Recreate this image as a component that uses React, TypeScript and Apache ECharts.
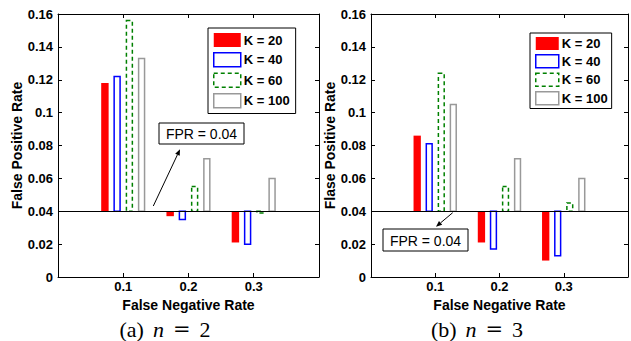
import React, { useEffect, useRef } from "react";
import * as echarts from "echarts";

// ---- data ----
const FNR = [0.1, 0.2, 0.3];
const K_LABELS = ["K = 20", "K = 40", "K = 60", "K = 100"];
const BASELINE_FPR = 0.04;

// (a) n = 2
const N2_K20 = [0.118, 0.037, 0.021];
const N2_K40 = [0.122, 0.035, 0.02];
const N2_K60 = [0.156, 0.055, 0.039];
const N2_K100 = [0.133, 0.072, 0.06];

// (b) n = 3
const N3_K20 = [0.086, 0.021, 0.01];
const N3_K40 = [0.081, 0.017, 0.013];
const N3_K60 = [0.124, 0.055, 0.045];
const N3_K100 = [0.105, 0.072, 0.06];

const Y_TICKS = ["0", "0.02", "0.04", "0.06", "0.08", "0.1", "0.12", "0.14", "0.16"];
const X_TICKS = ["0.1", "0.2", "0.3"];

// ---- styles ----
const FONT = "Liberation Sans, Arial, Helvetica, sans-serif";
const SERIF = "Liberation Serif, Times New Roman, serif";
const BAR_OFFSETS = [-0.0281, -0.0094, 0.0094, 0.0281];
const BAR_W = 0.0114;
const BAR_STYLES = [
  { fill: "#ff0000", stroke: null, lineWidth: 0, lineDash: null },
  { fill: "#ffffff", stroke: "#0000ff", lineWidth: 1.5, lineDash: null },
  { fill: "#ffffff", stroke: "#008000", lineWidth: 1.5, lineDash: [4, 3] },
  { fill: "#ffffff", stroke: "#999999", lineWidth: 1.5, lineDash: null },
];
const LEGEND_STYLES = [
  { color: "#ff0000", borderWidth: 0 },
  { color: "#ffffff", borderColor: "#0000ff", borderWidth: 1.5, borderType: "solid" },
  { color: "#ffffff", borderColor: "#008000", borderWidth: 1.5, borderType: [4, 3] },
  { color: "#ffffff", borderColor: "#999999", borderWidth: 1.5, borderType: "solid" },
];

function makeRender(k: number) {
  const st = BAR_STYLES[k];
  return (params: any, api: any) => {
    const x = api.value(0);
    const v = api.value(1);
    const c = x + BAR_OFFSETS[k];
    const p1 = api.coord([c - BAR_W / 2, BASELINE_FPR]);
    const p2 = api.coord([c + BAR_W / 2, v]);
    let rx = Math.min(p1[0], p2[0]);
    let rw = Math.abs(p2[0] - p1[0]);
    const ry = Math.min(p1[1], p2[1]);
    const rh = Math.abs(p2[1] - p1[1]);
    if (st.lineWidth) {
      rx += st.lineWidth / 2;
      rw -= st.lineWidth;
    }
    return {
      type: "rect",
      shape: { x: rx, y: ry, width: rw, height: rh },
      style: {
        fill: st.fill,
        stroke: st.stroke || undefined,
        lineWidth: st.lineWidth,
        lineDash: st.lineDash || undefined,
      },
    };
  };
}

function makeSeries(values: number[], k: number, axisIdx: number, withLine: boolean) {
  const s: any = {
    type: "custom",
    name: K_LABELS[k],
    xAxisIndex: axisIdx,
    yAxisIndex: axisIdx,
    renderItem: makeRender(k),
    data: FNR.map((x, i) => [x, values[i]]),
    itemStyle: { color: BAR_STYLES[k].stroke || BAR_STYLES[k].fill },
  };
  if (withLine) {
    s.markLine = {
      silent: true,
      symbol: "none",
      label: { show: false },
      lineStyle: { color: "#000", width: 1, type: "solid" },
      data: [{ yAxis: BASELINE_FPR }],
    };
  }
  return s;
}

function xAxis(grid: number, position: string, labels: boolean) {
  return {
    type: "value",
    gridIndex: grid,
    position,
    min: 0,
    max: 0.4,
    interval: 0.1,
    name: labels ? "False Negative Rate" : "",
    nameLocation: "middle",
    nameGap: 17,
    nameTextStyle: { fontFamily: FONT, fontWeight: "bold", fontSize: 14, color: "#000" },
    axisLine: { show: true, onZero: false, lineStyle: { color: "#000", width: 1 } },
    axisTick: { show: true, inside: true, length: 4, lineStyle: { color: "#000" } },
    axisLabel: {
      show: labels,
      margin: 3,
      fontFamily: FONT,
      fontWeight: "bold",
      fontSize: 13,
      color: "#000",
      formatter: (v: number) => {
        const i = Math.round(v * 10) - 1;
        return i >= 0 && i < X_TICKS.length ? X_TICKS[i] : "";
      },
    },
    splitLine: { show: false },
  };
}

function yAxis(grid: number, position: string, name: string) {
  return {
    type: "value",
    gridIndex: grid,
    position,
    min: 0,
    max: 0.16,
    interval: 0.02,
    name,
    nameLocation: "middle",
    nameRotate: 90,
    nameGap: 31,
    nameTextStyle: { fontFamily: FONT, fontWeight: "bold", fontSize: 14, color: "#000" },
    axisLine: { show: true, onZero: false, lineStyle: { color: "#000", width: 1 } },
    axisTick: { show: true, inside: true, length: 4, lineStyle: { color: "#000" } },
    axisLabel: {
      show: name !== "",
      margin: 5,
      fontFamily: FONT,
      fontWeight: "bold",
      fontSize: 13,
      color: "#000",
      formatter: (v: number) => Y_TICKS[Math.round(v / 0.02)] ?? "",
    },
    splitLine: { show: false },
  };
}

function legend(left: number, top: number, iw: number, ih: number, gap: number, padding: number[]) {
  return {
    left,
    top,
    orient: "vertical",
    icon: "rect",
    itemWidth: iw,
    itemHeight: ih,
    itemGap: gap,
    padding,
    selectedMode: false,
    backgroundColor: "#fff",
    borderColor: "#000",
    borderWidth: 1,
    borderRadius: 0,
    textStyle: { fontFamily: FONT, fontWeight: "bold", fontSize: 13, color: "#000", padding: [0, 0, 0, -2] },
    data: K_LABELS.map((n, k) => ({ name: n, itemStyle: LEGEND_STYLES[k] })),
  };
}

function arrow(x1: number, y1: number, x2: number, y2: number) {
  const dx = x2 - x1;
  const dy = y2 - y1;
  const len = Math.sqrt(dx * dx + dy * dy);
  const ux = dx / len;
  const uy = dy / len;
  const bx = x2 - 6 * ux;
  const by = y2 - 6 * uy;
  const nx = -uy * 2.5;
  const ny = ux * 2.5;
  return [
    { type: "line", shape: { x1, y1, x2: bx, y2: by }, style: { stroke: "#000", lineWidth: 1 }, z: 10 },
    {
      type: "polygon",
      shape: { points: [[x2, y2], [bx + nx, by + ny], [bx - nx, by - ny]] },
      style: { fill: "#000" },
      z: 10,
    },
  ];
}

function annotation(x: number, y: number, w: number, h: number) {
  return [
    { type: "rect", shape: { x, y, width: w, height: h }, style: { fill: "#fff", stroke: "#000", lineWidth: 1 }, z: 10 },
    {
      type: "text",
      x: x + w / 2,
      y: y + h / 2 + 0.5,
      style: {
        text: "FPR = " + BASELINE_FPR.toFixed(2),
        fontFamily: FONT,
        fontSize: 14,
        fill: "#000",
        align: "center",
        verticalAlign: "middle",
      },
      z: 11,
    },
  ];
}

function caption(cx: number, cy: number, letter: string, n: number) {
  return {
    type: "text",
    x: cx,
    y: cy,
    style: {
      text: `{r|(${letter})}{s| }{i|n}{s| }{e|=}{s| }{r|${n}}`,
      align: "center",
      verticalAlign: "middle",
      fill: "#000",
      rich: {
        r: { fontFamily: SERIF, fontSize: 22, fill: "#000" },
        i: { fontFamily: SERIF, fontSize: 22, fontStyle: "italic", fill: "#000" },
        e: { fontFamily: "DejaVu Serif, serif", fontSize: 21, fill: "#000" },
        s: { fontFamily: SERIF, fontSize: 22, width: 9 },
      },
      fontFamily: SERIF,
      fontSize: 22,
    },
  };
}

export default function App() {
  const ref = useRef<HTMLDivElement>(null);
  useEffect(() => {
    if (!ref.current) return;
    const chart = echarts.init(ref.current, undefined, { renderer: "svg" });
    const option: any = {
      animation: false,
      backgroundColor: "#fff",
      grid: [
        { left: 58, top: 14, width: 261, height: 263 },
        { left: 371, top: 14, width: 261, height: 263 },
      ],
      xAxis: [xAxis(0, "bottom", true), xAxis(0, "top", false), xAxis(1, "bottom", true), xAxis(1, "top", false)],
      yAxis: [
        yAxis(0, "left", "False Positive Rate"),
        yAxis(0, "right", ""),
        yAxis(1, "left", "Flase Positive Rate"),
        yAxis(1, "right", ""),
      ],
      legend: [
        legend(208, 28, 27, 14, 5, [5, 6, 5, 5]),
        legend(530, 33, 23, 13, 4, [4, 4, 3, 5]),
      ],
      series: [
        makeSeries(N2_K20, 0, 0, true),
        makeSeries(N2_K40, 1, 0, false),
        makeSeries(N2_K60, 2, 0, false),
        makeSeries(N2_K100, 3, 0, false),
        makeSeries(N3_K20, 0, 2, true),
        makeSeries(N3_K40, 1, 2, false),
        makeSeries(N3_K60, 2, 2, false),
        makeSeries(N3_K100, 3, 2, false),
      ],
      graphic: [
        ...arrow(153.3, 206, 180, 149.3),
        ...annotation(159, 123, 85, 21),
        ...arrow(452.7, 212.7, 436, 226.7),
        ...annotation(383, 229, 85, 22),
        caption(165, 329, "a", 2),
        caption(477, 329, "b", 3),
      ],
    };
    chart.setOption(option);
    return () => chart.dispose();
  }, []);
  return (
    <div
      ref={ref}
      style={{ position: "fixed", left: 0, top: 0, width: 631, height: 341, background: "#fff" }}
    />
  );
}
